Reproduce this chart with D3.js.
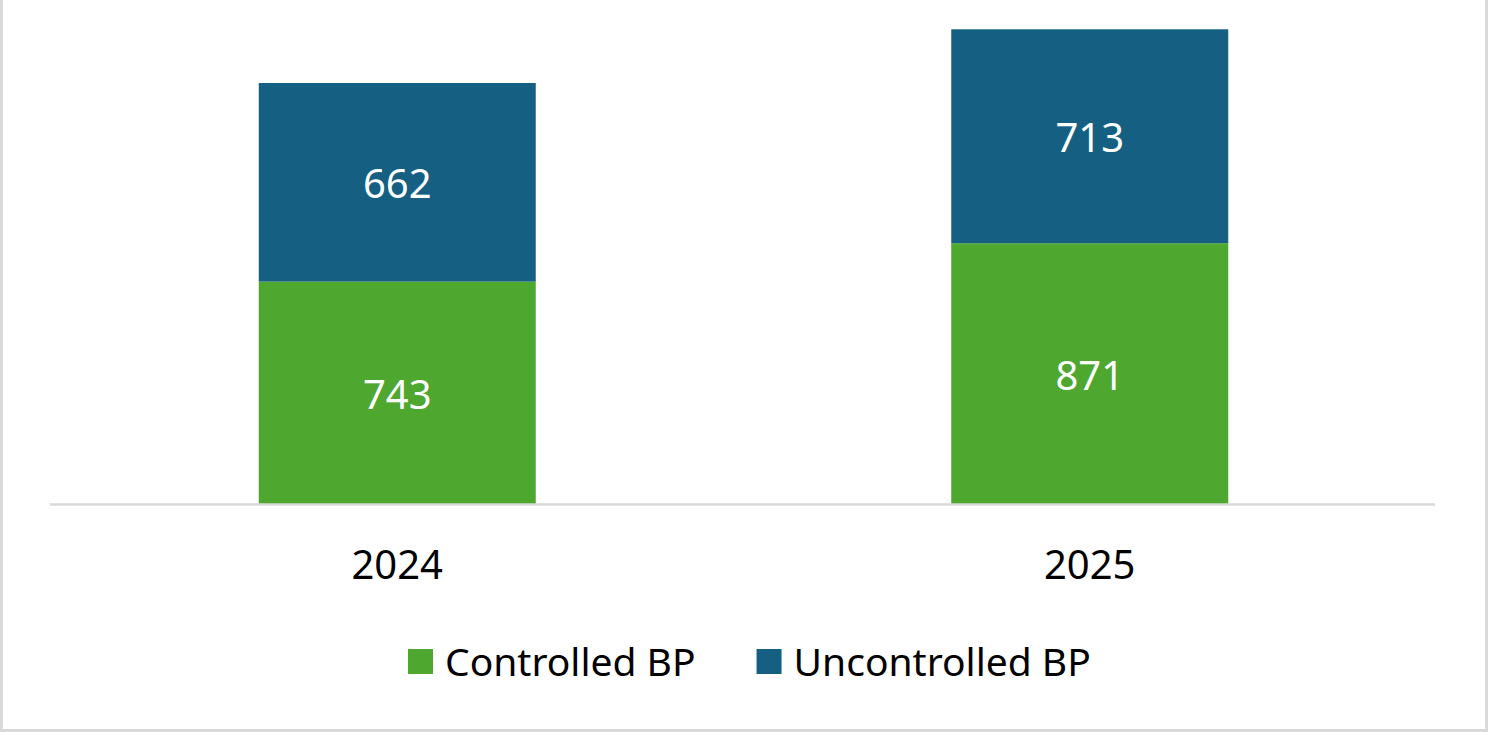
<!DOCTYPE html>
<html>
<head>
<meta charset="utf-8">
<script src="https://cdn.jsdelivr.net/npm/d3@7"></script>
<style>
  html, body { margin: 0; padding: 0; background: #fff; }
  svg { display: block; }
</style>
</head>
<body>
<div id="chart"></div>
<script>
var years = ["2024", "2025"];
var controlled = [743, 871];
var uncontrolled = [662, 713];
var seriesNames = ["Controlled BP", "Uncontrolled BP"];
var seriesColors = ["#4ea72e", "#156082"];

var svgWidth = 1488;
var svgHeight = 732;
var fontFamily = "'Noto Sans', 'Open Sans', sans-serif";

var svg = d3.select("#chart")
  .append("svg")
  .attr("width", svgWidth)
  .attr("height", svgHeight);

// chart frame (gray edges)
svg.append("rect").attr("x", 0).attr("y", -4).attr("width", svgWidth).attr("height", svgHeight + 4)
  .attr("fill", "none").attr("stroke", "#d9d9d9").attr("stroke-width", 6);

var rows = years.map(function(y, i) {
  return { year: y, controlled: controlled[i], uncontrolled: uncontrolled[i] };
});

var stack = d3.stack().keys(["controlled", "uncontrolled"]);
var stacked = stack(rows);

var x = d3.scaleBand()
  .domain(years)
  .range([51, 1436])
  .paddingInner(0.6)
  .paddingOuter(0.3);

var y = d3.scaleLinear()
  .domain([0, 1600])
  .range([504.5, 24.5]);

// bars
var layers = svg.selectAll(".layer")
  .data(stacked)
  .enter()
  .append("g")
  .attr("fill", function(d, i) { return seriesColors[i]; });

layers.selectAll("rect")
  .data(function(d) { return d; })
  .enter()
  .append("rect")
  .attr("x", function(d) { return x(d.data.year); })
  .attr("y", function(d) { return y(d[1]); })
  .attr("width", x.bandwidth())
  .attr("height", function(d) { return y(d[0]) - y(d[1]); });

// value labels
layers.selectAll("text")
  .data(function(d) { return d; })
  .enter()
  .append("text")
  .attr("x", function(d) { return x(d.data.year) + x.bandwidth() / 2; })
  .attr("y", function(d) { return (y(d[0]) + y(d[1])) / 2 + 16; })
  .attr("text-anchor", "middle")
  .attr("fill", "#ffffff")
  .style("font-family", fontFamily)
  .style("font-size", "40px")
  .text(function(d) { return d[1] - d[0]; });

// axis
var bottomAxis = d3.axisBottom(x).tickSize(0).tickPadding(0);
var axisG = svg.append("g")
  .attr("transform", "translate(0," + y(0) + ")")
  .call(bottomAxis);
axisG.select(".domain").attr("stroke", "#d9d9d9").attr("stroke-width", 2.5)
  .attr("d", "M50,0H1435");
axisG.selectAll(".tick text")
  .attr("dy", null)
  .attr("y", 74)
  .attr("fill", "#000")
  .style("font-family", fontFamily)
  .style("font-size", "40px");

// legend
var legend = svg.append("g");
var items = legend.selectAll("g")
  .data(seriesNames)
  .enter()
  .append("g");
items.append("rect")
  .attr("width", 25).attr("height", 25)
  .attr("y", 649)
  .attr("fill", function(d, i) { return seriesColors[i]; });
items.append("text")
  .attr("x", 37)
  .attr("y", 676)
  .attr("fill", "#000")
  .style("font-family", fontFamily)
  .style("font-size", "39px")
  .text(function(d) { return d; });

var offset = 408;
items.each(function() {
  var g = d3.select(this);
  g.attr("transform", "translate(" + offset + ",0)");
  var w = 37 + g.select("text").node().getComputedTextLength();
  offset += w + 61;
});
</script>
</body>
</html>
